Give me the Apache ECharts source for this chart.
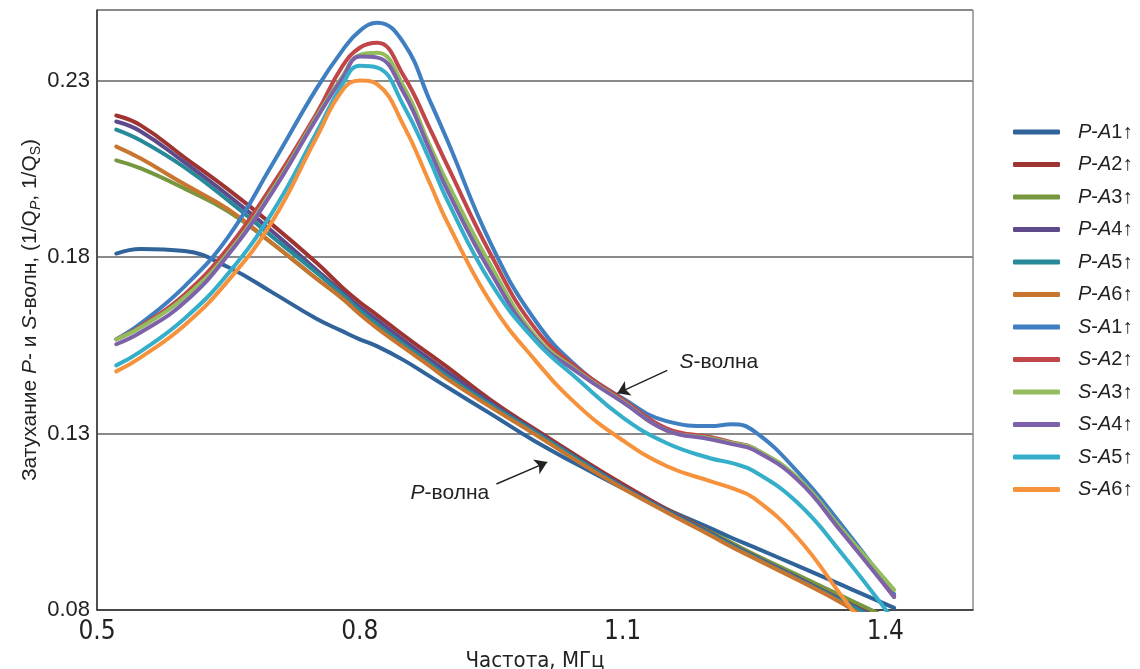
<!DOCTYPE html>
<html><head><meta charset="utf-8">
<script src="https://cdn.jsdelivr.net/npm/echarts@6/dist/echarts.min.js"></script>
<style>html,body{margin:0;padding:0;background:#fff}#c{width:1140px;height:669px}</style>
</head><body><div id="c"></div>
<script>
// Frequency, MHz
const freq = [0.522, 0.55, 0.6, 0.65, 0.7, 0.75, 0.78, 0.8, 0.82, 0.85, 0.88, 0.9, 0.95, 1.0, 1.05, 1.1, 1.15, 1.2, 1.225, 1.25, 1.3, 1.35, 1.41];

// P-wave attenuation 1/Qp
const pA1 = [0.1810, 0.1823, 0.1817, 0.1771, 0.1700, 0.1626, 0.1590, 0.1567, 0.1547, 0.1508, 0.1462, 0.1431, 0.1355, 0.1278, 0.1210, 0.1145, 0.1086, 0.1032, 0.1004, 0.0978, 0.0925, 0.0871, 0.0806];
const pA2 = [0.2201, 0.2173, 0.2082, 0.1991, 0.1892, 0.1785, 0.1714, 0.1672, 0.1635, 0.1578, 0.1524, 0.1488, 0.1394, 0.1312, 0.1233, 0.1157, 0.1086, 0.1021, 0.0987, 0.0956, 0.0893, 0.0831, 0.0755];
const pA3 = [0.2074, 0.2051, 0.1994, 0.1929, 0.1839, 0.1740, 0.1683, 0.1641, 0.1601, 0.1547, 0.1493, 0.1457, 0.1377, 0.1301, 0.1222, 0.1148, 0.1083, 0.1021, 0.0990, 0.0958, 0.0899, 0.0840, 0.0769];
const pA4 = [0.2184, 0.2156, 0.2068, 0.1974, 0.1873, 0.1765, 0.1700, 0.1658, 0.1621, 0.1564, 0.1510, 0.1474, 0.1386, 0.1307, 0.1227, 0.1151, 0.1083, 0.1018, 0.0984, 0.0953, 0.0891, 0.0828, 0.0752];
const pA5 = [0.2161, 0.2130, 0.2054, 0.1960, 0.1858, 0.1757, 0.1694, 0.1649, 0.1609, 0.1553, 0.1499, 0.1462, 0.1380, 0.1304, 0.1225, 0.1148, 0.1080, 0.1015, 0.0981, 0.0950, 0.0888, 0.0825, 0.0749];
const pA6 = [0.2113, 0.2079, 0.2006, 0.1935, 0.1839, 0.1740, 0.1683, 0.1638, 0.1598, 0.1544, 0.1491, 0.1454, 0.1374, 0.1298, 0.1219, 0.1145, 0.1077, 0.1012, 0.0978, 0.0947, 0.0885, 0.0820, 0.0724];

// S-wave attenuation 1/Qs
const sA1 = [0.1567, 0.1612, 0.1717, 0.1858, 0.2062, 0.2275, 0.2385, 0.2441, 0.2464, 0.2407, 0.2243, 0.2130, 0.1836, 0.1621, 0.1485, 0.1400, 0.1335, 0.1321, 0.1326, 0.1307, 0.1191, 0.1041, 0.0845];
const sA2 = [0.1567, 0.1604, 0.1694, 0.1827, 0.2003, 0.2204, 0.2340, 0.2393, 0.2407, 0.2314, 0.2164, 0.2059, 0.1805, 0.1598, 0.1482, 0.1397, 0.1315, 0.1290, 0.1275, 0.1258, 0.1171, 0.1026, 0.0837];
const sA3 = [0.1567, 0.1601, 0.1686, 0.1813, 0.1989, 0.2195, 0.2311, 0.2373, 0.2379, 0.2283, 0.2116, 0.2011, 0.1774, 0.1578, 0.1474, 0.1391, 0.1309, 0.1287, 0.1273, 0.1258, 0.1174, 0.1029, 0.0857];
const sA4 = [0.1553, 0.1587, 0.1672, 0.1807, 0.1983, 0.2190, 0.2306, 0.2368, 0.2365, 0.2266, 0.2102, 0.1989, 0.1754, 0.1570, 0.1471, 0.1389, 0.1309, 0.1284, 0.1270, 0.1253, 0.1168, 0.1021, 0.0837];
const sA5 = [0.1493, 0.1533, 0.1626, 0.1754, 0.1926, 0.2150, 0.2289, 0.2342, 0.2337, 0.2229, 0.2074, 0.1960, 0.1725, 0.1564, 0.1451, 0.1346, 0.1273, 0.1230, 0.1216, 0.1193, 0.1103, 0.0961, 0.0769];
const sA6 = [0.1476, 0.1516, 0.1607, 0.1734, 0.1901, 0.2136, 0.2272, 0.2300, 0.2289, 0.2173, 0.2009, 0.1898, 0.1669, 0.1508, 0.1377, 0.1281, 0.1208, 0.1165, 0.1145, 0.1117, 0.1004, 0.0840, 0.0644];

const seriesNames = ['P-A1↑','P-A2↑','P-A3↑','P-A4↑','P-A5↑','P-A6↑','S-A1↑','S-A2↑','S-A3↑','S-A4↑','S-A5↑','S-A6↑'];
const seriesValues = [pA1, pA2, pA3, pA4, pA5, pA6, sA1, sA2, sA3, sA4, sA5, sA6];
const seriesColors = ['#2f6399','#9e3431','#76973e','#5e4a8a','#27899a','#c8762f','#3f7fc1','#c0464a','#93bd5c','#7d62aa','#35afc9','#f7923c'];

const xTickLabels = ['0.5','0.8','1.1','1.4'];
const yTickLabels = ['0.08','0.13','0.18','0.23'];

// annotation anchors (data coordinates)
const sArrow = [[1.151, 0.1479], [1.094, 0.1414]];
const pArrow = [[0.956, 0.1157], [1.014, 0.1219]];
const sLabelAt = [1.165, 0.1502];
const pLabelAt = [0.858, 0.1131];

const FONT = '"Liberation Sans", Arial, sans-serif';
const NARROW = '"Liberation Sans Narrow", "DejaVu Sans Condensed", "Liberation Sans", sans-serif';

const chart = echarts.init(document.getElementById('c'), null, {renderer: 'canvas'});

const series = seriesNames.map((name, k) => ({
  name: name,
  type: 'line',
  smooth: 0.45,
  symbol: 'none',
  clip: true,
  data: freq.map((f, i) => [f, seriesValues[k][i]]),
  lineStyle: {color: seriesColors[k], width: 4, cap: 'round', join: 'round'},
  itemStyle: {color: seriesColors[k]},
  emphasis: {disabled: true}
}));

series[series.length - 1].markLine = {
  silent: true,
  symbol: ['none', 'arrow'],
  symbolSize: 12,
  label: {show: false},
  lineStyle: {color: '#222', width: 1.4, type: 'solid'},
  itemStyle: {color: '#222'},
  data: [
    [{coord: sArrow[0]}, {coord: sArrow[1]}],
    [{coord: pArrow[0]}, {coord: pArrow[1]}]
  ]
};
series[series.length - 1].markPoint = {
  silent: true,
  symbol: 'circle',
  symbolSize: 0,
  itemStyle: {color: 'rgba(0,0,0,0)'},
  label: {
    show: true,
    position: 'right',
    distance: 0,
    color: '#222',
    fontSize: 21,
    fontFamily: FONT,
    rich: {
      i: {fontStyle: 'italic', fontSize: 21, fontFamily: FONT, color: '#222'},
      n: {fontSize: 21, fontFamily: FONT, color: '#222'}
    }
  },
  data: [
    {coord: sLabelAt, label: {formatter: '{i|S}{n|-волна}'}},
    {coord: pLabelAt, label: {formatter: '{i|P}{n|-волна}'}}
  ]
};

const option = {
  backgroundColor: '#fff',
  animation: false,
  grid: {left: 97, right: 167, top: 10, bottom: 59, show: true, borderColor: '#555', borderWidth: 1, containLabel: false, outerBoundsMode: 'none'},
  legend: {
    orient: 'vertical',
    left: 1008,
    top: 116,
    itemWidth: 47,
    itemHeight: 5,
    itemGap: 10.5,
    icon: 'roundRect',
    data: seriesNames,
    selectedMode: false,
    formatter: n => n.replace(/^([PS])-A/, '{i|$1}-{i|A}'),
    textStyle: {
      fontSize: 20, fontFamily: FONT, color: '#222', lineHeight: 22, padding: [0, 0, 0, 13],
      rich: {i: {fontStyle: 'italic', fontSize: 20, fontFamily: FONT, color: '#222', lineHeight: 22}}
    }
  },
  xAxis: {
    type: 'value',
    min: 0.5, max: 1.5, interval: 0.3,
    axisLine: {show: true, onZero: false, lineStyle: {color: '#333', width: 1.5}},
    axisTick: {show: false},
    splitLine: {show: false},
    axisLabel: {
      showMaxLabel: false,
      margin: 9,
      fontSize: 26, fontFamily: NARROW, color: '#222',
      formatter: v => { const i = Math.round((v - 0.5) / 0.3); return (Math.abs(v - (0.5 + i * 0.3)) < 1e-6 && i < xTickLabels.length) ? xTickLabels[i] : ''; }
    },
    name: 'Частота, МГц',
    nameLocation: 'middle',
    nameGap: 40,
    nameMoveOverlap: false,
    nameTextStyle: {fontSize: 22, fontFamily: NARROW, color: '#222'}
  },
  yAxis: {
    type: 'value',
    min: 0.08, max: 0.25, interval: 0.05,
    axisLine: {show: true, onZero: false, lineStyle: {color: '#333', width: 1.5}},
    axisTick: {show: false},
    splitLine: {show: true, lineStyle: {color: '#8a8a8a', width: 2}},
    axisLabel: {
      showMaxLabel: false,
      margin: 7,
      fontSize: 22, fontFamily: FONT, color: '#222',
      formatter: v => { const i = Math.round((v - 0.08) / 0.05); return (Math.abs(v - (0.08 + i * 0.05)) < 1e-6 && i < yTickLabels.length) ? yTickLabels[i] : ''; }
    },
    name: '{n|Затухание }{i|P}{n|- и }{i|S}{n|-волн, (1/Q}{si|P}{n|, 1/Q}{s|S}{n|)}',
    nameLocation: 'middle',
    nameRotate: 90,
    nameGap: 54,
    nameMoveOverlap: false,
    nameTextStyle: {
      fontSize: 21, fontFamily: FONT, color: '#222',
      rich: {
        n: {fontSize: 21, fontFamily: FONT, color: '#222', lineHeight: 26},
        i: {fontSize: 21, fontStyle: 'italic', fontFamily: FONT, color: '#222', lineHeight: 26},
        si: {fontSize: 14, fontStyle: 'italic', fontFamily: FONT, color: '#222', verticalAlign: 'bottom', lineHeight: 26, padding: [9, 0, 0, 0]},
        s: {fontSize: 14, fontFamily: FONT, color: '#222', verticalAlign: 'bottom', lineHeight: 26, padding: [9, 0, 0, 0]}
      }
    }
  },
  series: series
};
chart.setOption(option);
</script></body></html>
